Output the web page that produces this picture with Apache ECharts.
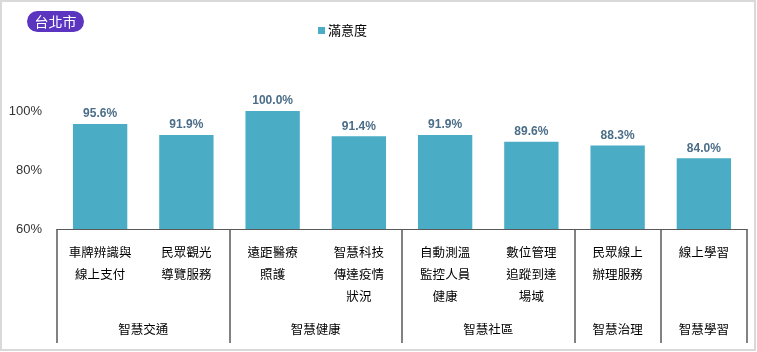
<!DOCTYPE html>
<html><head><meta charset="utf-8">
<script src="https://cdn.jsdelivr.net/npm/echarts@6/dist/echarts.min.js"></script>
<style>html,body{margin:0;padding:0;background:#fff}#c{width:757px;height:352px}</style>
</head><body><div id="c"></div>
<script>
var categories = ['車牌辨識與\n線上支付','民眾觀光\n導覽服務','遠距醫療\n照護','智慧科技\n傳達疫情\n狀況','自動測溫\n監控人員\n健康','數位管理\n追蹤到達\n場域','民眾線上\n辦理服務','線上學習'];
var satisfaction = [95.6, 91.9, 100.0, 91.4, 91.9, 89.6, 88.3, 84.0];
var groups = ['智慧交通','智慧健康','智慧社區','智慧治理','智慧學習'];
var groupSpan = [2, 2, 2, 1, 1];
var yTicks = [60, 80, 100];
var seriesName = '滿意度';
var cityName = '台北市';

var groupStart = [];
var acc = 0;
groupSpan.forEach(function(s){ groupStart.push(acc); acc += s; });
var slots = [];
for (var i = 0; i <= categories.length * 2; i++) slots.push('s' + i);
var slotLabel = {};
groupStart.forEach(function(st, gi){ slotLabel[st * 2 + groupSpan[gi]] = groups[gi]; });

var chart = echarts.init(document.getElementById('c'), null, {renderer: 'canvas'});
var cjk = '"Noto Sans CJK TC", "Noto Sans CJK SC", sans-serif';
chart.setOption({
  animation: false,
  title: {
    text: cityName, left: 27, top: 11,
    padding: [3, 7.5, 3, 7.5],
    backgroundColor: '#5b35c0', borderRadius: 11,
    textStyle: {color: '#fff', fontSize: 14, fontWeight: 'normal', fontFamily: cjk, lineHeight: 15}
  },
  legend: {
    left: 313, top: 19, itemWidth: 7, itemHeight: 7, icon: 'rect',
    textStyle: {fontSize: 13, color: '#000', fontFamily: cjk, padding: [0,0,0,-2]},
    data: [seriesName]
  },
  graphic: [{
    type: 'rect', shape: {x: 1, y: 1, width: 754, height: 349},
    style: {fill: 'none', stroke: '#d9d9d9', lineWidth: 2}, silent: true, z: -1
  }],
  grid: {left: 57, right: 10, top: 111, bottom: 123},
  xAxis: [{
    type: 'category', data: categories, position: 'bottom',
    axisLine: {lineStyle: {color: '#595959', width: 1}},
    axisTick: {
      show: true, length: 114,
      interval: function(idx){ return groupStart.indexOf(idx) >= 0; },
      lineStyle: {color: '#595959', width: 1.5}
    },
    axisLabel: {interval: 0, margin: 12, fontSize: 12.5, lineHeight: 22, color: '#000', fontFamily: cjk, verticalAlign: 'top'},
  }, {
    type: 'category', data: slots, position: 'bottom', boundaryGap: false,
    axisLine: {show: false}, axisTick: {show: false},
    axisLabel: {
      interval: 0, margin: 94, fontSize: 12.5, color: '#000', fontFamily: cjk,
      formatter: function(v, idx){ return slotLabel[idx] || ''; }
    }
  }],
  yAxis: {
    type: 'value', min: 60, max: 100, interval: 20,
    axisLine: {show: false}, axisTick: {show: false}, splitLine: {show: false},
    axisLabel: {margin: 15, fontSize: 13, color: '#333', fontFamily: '"Liberation Sans", Arial, sans-serif',
      formatter: function(v){ return yTicks.indexOf(v) >= 0 ? v + '%' : ''; }}
  },
  series: [{
    name: seriesName, type: 'bar', data: satisfaction, xAxisIndex: 0,
    barCategoryGap: '37%',
    itemStyle: {color: '#4bacc6'},
    label: {show: true, position: 'top', distance: 4,
      formatter: function(p){ return p.value.toFixed(1) + '%'; },
      color: '#4b6d87', fontSize: 12, fontWeight: 'bold', fontFamily: '"Liberation Sans", Arial, sans-serif'}
  }]
});
</script></body></html>
